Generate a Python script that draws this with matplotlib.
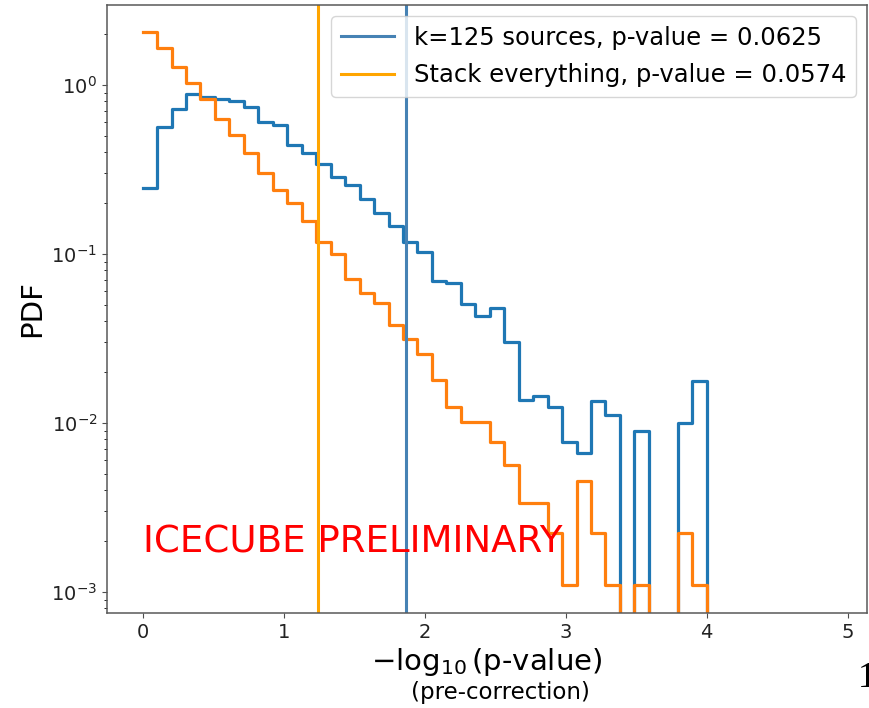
#!/usr/bin/env python3

import numpy as np
import matplotlib
matplotlib.use('Agg')
import matplotlib.pyplot as plt

# PDF per bin, 39 bins over 0..4 in -log10(p)
BIN_LO = 0.0
BIN_HI = 4.0
N_BINS = 39

PDF_K125 = [0.247, 0.562, 0.721, 0.885, 0.853, 0.823, 0.807, 0.738, 0.607, 0.580,
            0.441, 0.396, 0.340, 0.287, 0.255, 0.212, 0.174, 0.147, 0.118, 0.102,
            0.0695, 0.067, 0.0506, 0.0431, 0.0477, 0.0303, 0.0136, 0.0145, 0.0124, 0.00774,
            0.00667, 0.01355, 0.01115, 0.0, 0.009, 0.0, 0.0, 0.0100, 0.0178]

PDF_STACK = [2.05, 1.65, 1.27, 1.02, 0.826, 0.630, 0.506, 0.394, 0.300, 0.239,
             0.201, 0.156, 0.118, 0.100, 0.0708, 0.0585, 0.051, 0.038, 0.0314, 0.0256,
             0.018, 0.0124, 0.0101, 0.0101, 0.00775, 0.00564, 0.00334, 0.00334, 0.00222, 0.0011,
             0.0045, 0.00222, 0.0011, 0.0, 0.0011, 0.0, 0.0, 0.00222, 0.0011]

# observed (pre-correction) values
OBS_K125 = 1.87
OBS_STACK = 1.241
LABEL_K125 = 'k=125 sources, p-value = 0.0625'
LABEL_STACK = 'Stack everything, p-value = 0.0574'


def main():
    fig = plt.figure(figsize=(8.69, 7.08), dpi=100)
    ax = fig.add_axes([0.1231, 0.1342, 0.8746, 0.8587])

    edges = np.linspace(BIN_LO, BIN_HI, N_BINS + 1)
    ax.step(edges, np.append(PDF_K125, 0.0), where='post', color='#1f77b4', lw=2.3)
    ax.step(edges, np.append(PDF_STACK, 0.0), where='post', color='#ff7f0e', lw=2.3)

    ax.axvline(OBS_K125, color='steelblue', lw=2.2, label=LABEL_K125)
    ax.axvline(OBS_STACK, color='orange', lw=2.2, label=LABEL_STACK)

    ax.set_yscale('log')
    ax.set_xlim(-0.253, 5.137)
    ax.set_ylim(7.5e-4, 2.97)
    ax.set_xticks([0, 1, 2, 3, 4, 5])
    ax.tick_params(labelsize=14, colors='0.3', labelcolor='#222222')
    for sp in ax.spines.values():
        sp.set_color('0.35')
        sp.set_linewidth(1.1)

    ax.set_ylabel('PDF', fontsize=21)

    ax.text(0.0, 0.00172, 'ICECUBE PRELIMINARY', color='red', fontsize=26.7,
            va='baseline', ha='left')

    ax.legend(loc='upper right', fontsize=17.5, handlelength=2.2, labelspacing=0.55,
              borderaxespad=0.45)

    fig.text(487 / 869, 1 - 670 / 708, r'$-\log_{10}$(p-value)', fontsize=21,
             ha='center', va='baseline')
    fig.text(500 / 869, 1 - 699 / 708, '(pre-correction)', fontsize=16.5,
             ha='center', va='baseline')
    # slide number, cut at the right border
    fig.text(858 / 869, 1 - 687 / 708, '1', fontsize=26, family='Liberation Serif',
             ha='left', va='baseline')

    fig.savefig('out.png', dpi=100)
    plt.close(fig)


if __name__ == "__main__":
    main()
